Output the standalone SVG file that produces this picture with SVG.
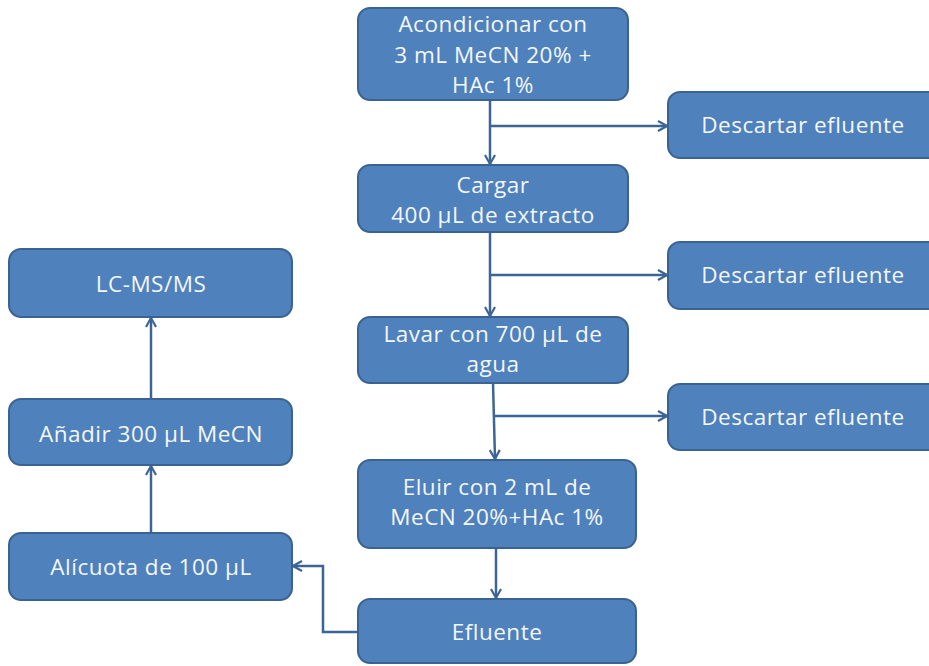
<svg xmlns="http://www.w3.org/2000/svg" width="929" height="666" viewBox="0 0 929 666">
  <style>
    .box { fill: #4f81bd; stroke: #3a6391; stroke-width: 2; }
    .lbl { font-family: "Open Sans", "Noto Sans", "DejaVu Sans", sans-serif; font-size: 22.5px; letter-spacing: 0.5px; fill: #f4f7fb; text-anchor: middle; }
    .wire { fill: none; stroke: #3c6596; stroke-width: 2.5; }
  </style>
  <defs>
    <marker id="head" viewBox="0 0 12 12" refX="10" refY="6" markerWidth="12" markerHeight="12" markerUnits="userSpaceOnUse" orient="auto">
      <path d="M1,1 L10,6 L1,11" fill="none" stroke="#3c6596" stroke-width="2.2"/>
    </marker>
  </defs>
  <rect width="929" height="666" fill="#ffffff"/>

  <g id="connectors">
    <path class="wire" d="M490,100 V164" marker-end="url(#head)"/>
    <path class="wire" d="M490,126 H667" marker-end="url(#head)"/>
    <path class="wire" d="M490,232 V316" marker-end="url(#head)"/>
    <path class="wire" d="M490,275 H667" marker-end="url(#head)"/>
    <path class="wire" d="M493,383 L495,459" marker-end="url(#head)"/>
    <path class="wire" d="M494,416 H667" marker-end="url(#head)"/>
    <path class="wire" d="M496,548 V598" marker-end="url(#head)"/>
    <path class="wire" d="M358,632 H323 V566 H293" marker-end="url(#head)"/>
    <path class="wire" d="M151,533 V466" marker-end="url(#head)"/>
    <path class="wire" d="M151,399 V318" marker-end="url(#head)"/>
  </g>

  <g id="acondicionar">
    <rect class="box" x="358" y="8" width="270" height="92" rx="12"/>
    <text class="lbl" x="493" y="32">Acondicionar con</text>
    <text class="lbl" x="493" y="63">3 mL MeCN 20% +</text>
    <text class="lbl" x="493" y="93">HAc 1%</text>
  </g>
  <g id="descartar1">
    <rect class="box" x="668" y="92" width="272" height="66" rx="12"/>
    <text class="lbl" x="803" y="133">Descartar efluente</text>
  </g>
  <g id="cargar">
    <rect class="box" x="358" y="165" width="270" height="67" rx="12"/>
    <text class="lbl" x="493" y="193">Cargar</text>
    <text class="lbl" x="493" y="223">400 µL de extracto</text>
  </g>
  <g id="descartar2">
    <rect class="box" x="668" y="242" width="272" height="67" rx="12"/>
    <text class="lbl" x="803" y="283">Descartar efluente</text>
  </g>
  <g id="lavar">
    <rect class="box" x="358" y="317" width="270" height="66" rx="12"/>
    <text class="lbl" x="493" y="342">Lavar con 700 µL de</text>
    <text class="lbl" x="493" y="372">agua</text>
  </g>
  <g id="descartar3">
    <rect class="box" x="668" y="384" width="272" height="66" rx="12"/>
    <text class="lbl" x="803" y="425">Descartar efluente</text>
  </g>
  <g id="eluir">
    <rect class="box" x="358" y="460" width="278" height="88" rx="12"/>
    <text class="lbl" x="497" y="495">Eluir con 2 mL de</text>
    <text class="lbl" x="497" y="525">MeCN 20%+HAc 1%</text>
  </g>
  <g id="efluente">
    <rect class="box" x="358" y="599" width="278" height="64" rx="12"/>
    <text class="lbl" x="497" y="640">Efluente</text>
  </g>
  <g id="lcmsms">
    <rect class="box" x="9" y="249" width="283" height="68" rx="12"/>
    <text class="lbl" x="151" y="292">LC-MS/MS</text>
  </g>
  <g id="anadir">
    <rect class="box" x="9" y="399" width="283" height="66" rx="12"/>
    <text class="lbl" x="151" y="442">Añadir 300 µL MeCN</text>
  </g>
  <g id="alicuota">
    <rect class="box" x="9" y="533" width="283" height="67" rx="12"/>
    <text class="lbl" x="151" y="575">Alícuota de 100 µL</text>
  </g>
</svg>
